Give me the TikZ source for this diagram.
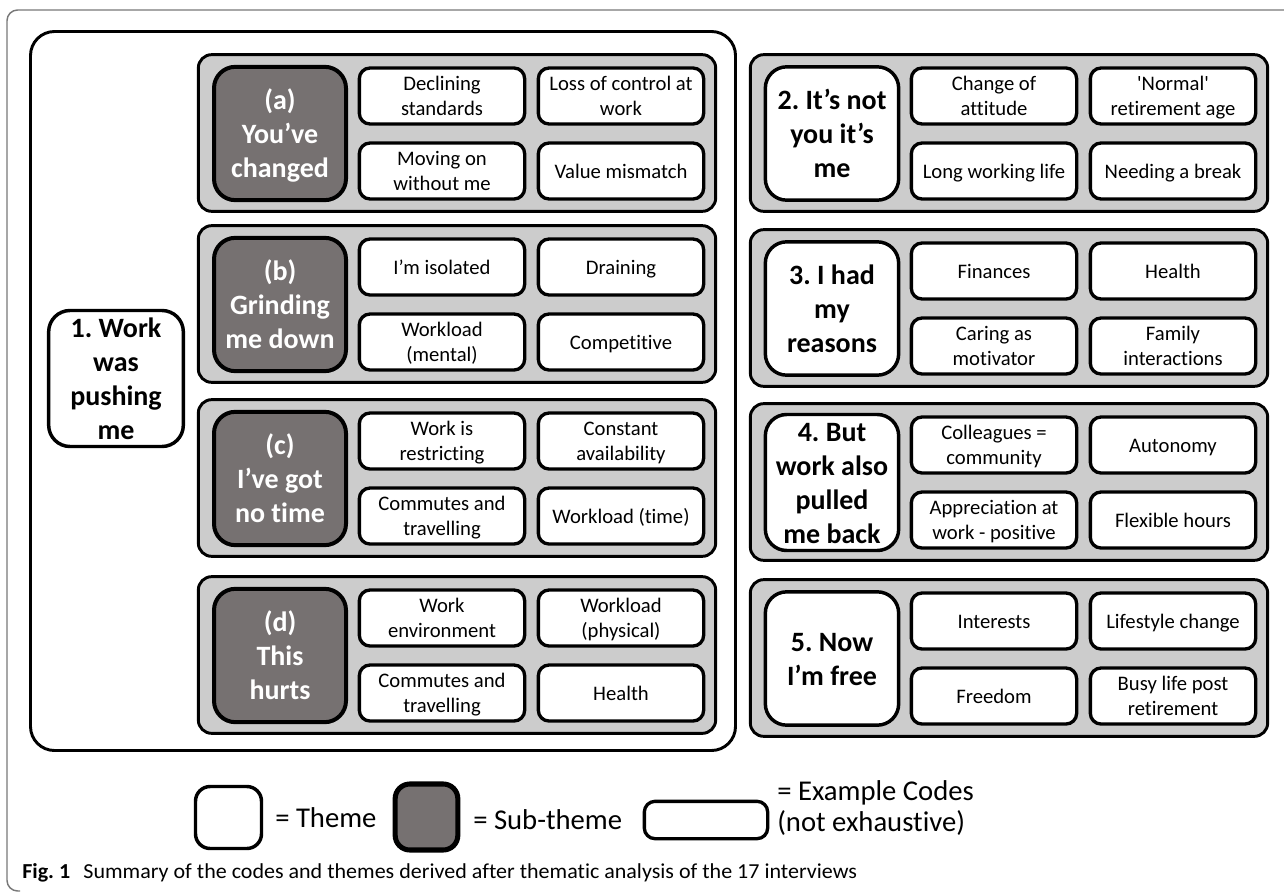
\documentclass[tikz,border=0pt]{standalone}
\usepackage{fontspec}
\setmainfont{Carlito}[Ligatures={TeX,NoCommon}]
\usepackage{graphicx}
\frenchspacing
\definecolor{grpgray}{RGB}{204,204,204}
\definecolor{subgray}{RGB}{118,113,113}
\definecolor{framegray}{RGB}{120,120,120}
\newcommand\thmfont{\fontsize{21}{25.5}\selectfont\bfseries}
\newcommand\codefont{\fontsize{15.5}{18.75}\selectfont}
\newcommand\mystrut{\rule[-0.21\baselineskip]{0pt}{\baselineskip}}
\newcommand\grp[9]{%
  \node[grp] (#1) at (#2,#3) {};
  \node[#4] (#1t) at ({#2-177},{#3+0.5}) {\mystrut #5\mystrut};
  \node[code] (#1c1) at ({#2-15},{#3-37}) {\mystrut #6\mystrut};
  \node[code] (#1c2) at ({#2+164},{#3-37}) {\mystrut #7\mystrut};
  \node[code] (#1c3) at ({#2-15},{#3+38}) {\mystrut #8\mystrut};
  \node[code] (#1c4) at ({#2+164},{#3+38}) {\mystrut #9\mystrut};
}
\begin{document}
\begin{tikzpicture}[x=0.75pt,y=-0.75pt,
  grp/.style={draw, line width=2.2pt, fill=grpgray, rounded corners=10pt,
    minimum width=388pt, minimum height=117.5pt, inner sep=0pt},
  sub/.style={draw, line width=3pt, fill=subgray, rounded corners=16pt,
    minimum width=99pt, minimum height=100pt, text=white, font=\thmfont,
    align=center, inner sep=0pt},
  theme/.style={draw, line width=2.6pt, fill=white, rounded corners=16pt,
    minimum width=100pt, minimum height=100pt, font=\thmfont,
    align=center, inner sep=0pt},
  code/.style={draw, line width=2.5pt, fill=white, rounded corners=8pt,
    minimum width=124pt, minimum height=42pt, font=\codefont,
    align=center, inner sep=0pt},
  legtxt/.style={font=\fontsize{21.5}{22.8}\selectfont, inner sep=0pt, anchor=west, align=left}
]
\useasboundingbox (0,0) rectangle (1284,892);
% outer thin frame
\draw[framegray, line width=1.1pt, rounded corners=8pt] (1300,10) -- (7,10) -- (7,891) -- (20,891);
% big box of theme 1
\node[draw, line width=2.2pt, rounded corners=18pt, minimum width=528.75pt,
  minimum height=539.25pt, inner sep=0pt] (big) at (383,391) {};
\node[theme, minimum width=101pt] (t1) at (116,378.5) {\mystrut 1. Work\\was\\pushing\\me\mystrut};
% left groups
\grp{a}{457}{133}{sub}{(a)\\You’ve\\changed}{Declining\\standards}{Loss of control at\\work}{Moving on\\without me}{Value mismatch}
\grp{b}{457}{304}{sub}{(b)\\Grinding\\me down}{I’m isolated}{Draining}{Workload\\(mental)}{Competitive}
\grp{c}{457}{478}{sub}{(c)\\I’ve got\\no time}{Work is\\restricting}{Constant\\availability}{Commutes and\\travelling}{Workload (time)}
\grp{d}{457}{655}{sub}{(d)\\This\\hurts}{Work\\environment}{Workload\\(physical)}{Commutes and\\travelling}{Health}
% right groups
\grp{g2}{1009}{133}{theme}{2. It’s not\\you it’s\\me}{Change of\\attitude}{\textquotesingle Normal\textquotesingle\\retirement age}{Long working life}{Needing a break}
\grp{g3}{1009}{308}{theme}{3. I had\\my\\reasons}{Finances}{Health}{Caring as\\motivator}{Family\\interactions}
\grp{g4}{1009}{482}{theme}{4. But\\work also\\pulled\\me back}{Colleagues =\\community}{Autonomy}{Appreciation at\\work - positive}{Flexible hours}
\grp{g5}{1009}{658}{theme}{5. Now\\I’m free}{Interests}{Lifestyle change}{Freedom}{Busy life post\\retirement}
% legend
\node[draw, line width=2.6pt, fill=white, rounded corners=11pt, minimum width=49.5pt,
  minimum height=46.5pt, inner sep=0pt] (lt) at (228.5,817.5) {};
\node[legtxt] (ltt) at (275,818) {= Theme};
\node[draw, line width=3.8pt, fill=subgray, rounded corners=11pt, minimum width=47pt,
  minimum height=49.5pt, inner sep=0pt] (ls) at (426.5,817) {};
\node[legtxt] (lst) at (473,820) {= Sub-theme};
\node[draw, line width=2.5pt, fill=white, rounded corners=8pt, minimum width=92.5pt,
  minimum height=28pt, inner sep=0pt] (lc) at (706,820) {};
\node[legtxt] (lct) at (777,808) {= Example Codes\\(not exhaustive)};
% caption
\node[anchor=base west, inner sep=0pt, font=\fontsize{16}{18}\selectfont] (cap) at (22,878)
  {\resizebox{626pt}{\height}{\textbf{Fig. 1}\hspace{0.6em}Summary of the codes and themes derived after thematic analysis of the 17 interviews}};
\end{tikzpicture}
\end{document}
